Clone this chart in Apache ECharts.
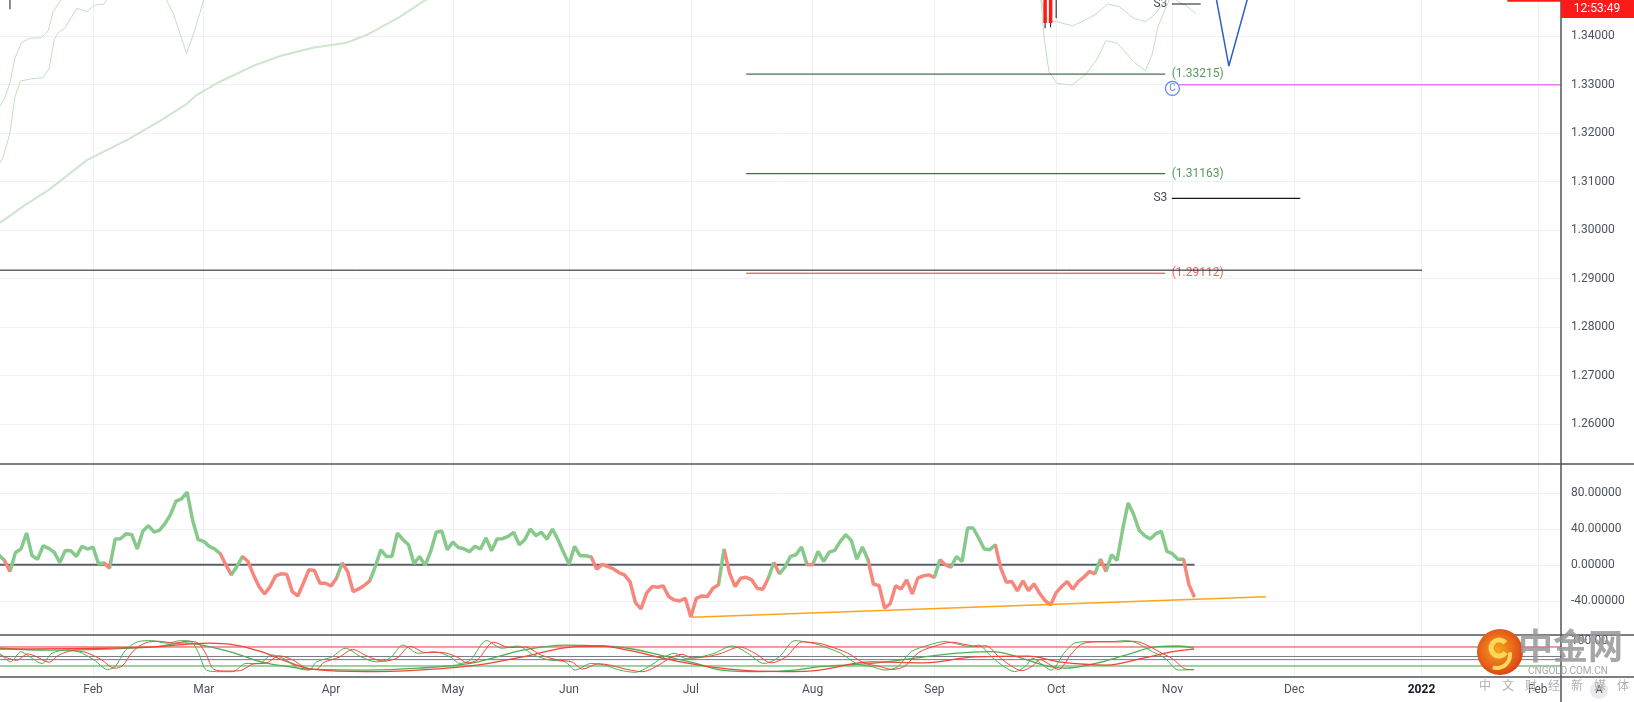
<!DOCTYPE html>
<html><head><meta charset="utf-8">
<script src="https://cdn.jsdelivr.net/npm/echarts@6/dist/echarts.min.js"></script>
<style>html,body{margin:0;padding:0;background:#fff}#c{width:1634px;height:702px}</style>
</head><body><div id="c"></div>
<script>
// ---------------- DATA ----------------
// x = trading-day index, 0 = 2021-01-07
const XMIN = 0.2, XMAX = 282.2;
const monthTickIndex = [17, 37, 60, 82, 103, 125, 147, 169, 191, 212, 234, 257, 278];
const monthTickLabel = ['Feb','Mar','Apr','May','Jun','Jul','Aug','Sep','Oct','Nov','Dec','2022','Feb'];
const priceTicks = [1.26, 1.27, 1.28, 1.29, 1.30, 1.31, 1.32, 1.33, 1.34];
const cciTicks = [-40, 0, 40, 80];
const stochTicks = [100];

// price pane: moving average and band curves [index, price]
const maLong = [[0.2,1.3015],[4.7,1.30515],[9.2,1.30845],[15.9,1.31443],[23.1,1.31855],[29.1,1.32253],[33.9,1.32598],[35.7,1.32783],[39.9,1.33058],[45.9,1.33381],[50.8,1.33587],[56.7,1.33759],[62.8,1.33862],[66.4,1.3402],[72.5,1.34398],[76.6,1.34707],[79.7,1.3491]];
const bandA = [[0.2,1.32556],[0.9,1.3268],[2.0,1.33031],[2.9,1.33546],[4.1,1.33862],[5.6,1.33958],[7.7,1.33965],[8.9,1.34109],[9.8,1.34501],[11.0,1.34707],[11.8,1.3485]];
const bandB = [[0.2,1.31387],[0.8,1.31511],[2.0,1.32],[2.9,1.32748],[3.9,1.33072],[5.9,1.33119],[7.9,1.3314],[9.1,1.33334],[10.0,1.33932],[10.9,1.34088],[11.9,1.34158],[14.1,1.34571],[15.9,1.34501],[17.2,1.34633],[19.0,1.3466],[19.7,1.348]];
const bandDip = [[30.0,1.348],[31.5,1.34468],[32.7,1.34055],[33.9,1.33643],[35.1,1.3402],[36.3,1.34468],[37.1,1.348]];
const bandOctUpper = [[188.2,1.3485],[188.8,1.34468],[189.7,1.34315],[191.1,1.34295],[194.0,1.34206],[198.0,1.34433],[200.3,1.3466],[202.4,1.34604],[205.0,1.34365],[207.1,1.34295],[208.7,1.34433],[210.1,1.34639],[211.2,1.3478]];
const bandOctUpper2 = [[212.4,1.3478],[213.0,1.34707],[214.6,1.34618],[216.3,1.34453]];
const bandOctLower = [[188.2,1.348],[188.8,1.33985],[189.7,1.33264],[191.1,1.33024],[193.9,1.32989],[196.2,1.33196],[198.3,1.33505],[200.0,1.33903],[202.1,1.33849],[205.0,1.3347],[207.1,1.33284],[208.3,1.33608],[209.4,1.34191],[210.9,1.34604],[211.6,1.3478]];

// candles visible at the top edge
const candleIdx   = [2, 189, 190, 191];
const candleOpen  = [1.3640, 1.3560, 1.3490, 1.3480];
const candleClose = [1.3600, 1.3427, 1.3427, 1.3500];
const candleLow   = [1.3455, 1.34158, 1.3418, 1.34365];
const candleHigh  = [1.3700, 1.3600, 1.3560, 1.3560];

// drawn levels
const fibLevels = [1.33215, 1.31163, 1.29112];
const fibColors = ['#1a4a1f', '#1a4a1f', '#e8312a'];
const fibLabelColors = ['#2e7d32', '#2e7d32', '#f23a2f'];
const fibFrom = 135.0, fibTo = 210.7;
const longLine = [[0.2, 1.29175], [257.1, 1.29175]];
const s3Lines = [[211.9, 217.1, 1.3466], [211.9, 235.1, 1.30653]];
const magentaLine = [[213.0, 1.32994], [282.2, 1.32994]];
const blueWave = [[219.7,1.34907],[222.2,1.33381],[225.9,1.34907]];
const pointC = [212.0, 1.3292];
const topRedLine = [[272.5, 1.34735], [282.2, 1.34735]];

// middle oscillator (one value per trading day, index 0..216)
const cciValues = [11,4.8,-7.4,13.8,17.5,35.3,10,6.3,21.2,18.2,13.8,2.6,16,15.6,9.3,20.5,17.5,19.7,1.1,1.9,
-3.7,28.6,29,34.6,33.5,17.5,37.2,43.5,36.5,38.3,45.8,55.8,70.7,73.3,80.7,49.5,27.9,26,20.5,17.5,
12.3,0,-11.2,-1.9,9.3,3.7,-11.2,-24.2,-32.4,-24.2,-12.3,-10,-10.4,-29.8,-34.6,-20.5,-5.6,-6.3,-20.5,-20.5,
-23.4,-14.9,1.9,-7.4,-29.8,-26.8,-23,-17.9,-1.9,16.7,9.3,9.3,35.3,27.9,22.3,1.1,9.3,-0.7,14.9,36.1,
37.6,16.7,25.3,19.3,17.9,14.5,20.5,17.5,29.8,15.6,28.6,29,31.6,36.1,22.3,27.9,39.8,32.4,36.1,28.6,
39.8,27.9,13.8,0.7,20.5,10,10,8.6,-4.8,0.4,-1.9,-4.5,-8.6,-11.2,-18.6,-42,-49,-31.6,-24.2,-24.9,
-23.4,-35.3,-39,-40.2,-37.2,-58,-37.2,-34.6,-35.3,-26,-22.3,17.5,-9.3,-24.2,-14.9,-13.8,-16.7,-26,-27.2,-14.9,
2.6,-10,-2.6,9.3,11.2,19.7,0,0,14.9,3.7,14.1,16,26,33.5,26.8,6.3,19.7,5.6,-21.6,-23,
-48,-43.5,-23.4,-26.8,-16.7,-32.4,-14.9,-12.3,-11.2,-14.1,5.6,0,-2.6,9.3,3.7,40.9,40.9,29.8,17.5,16.7,
22.3,-3.7,-19.3,-18.6,-29,-17.9,-28.6,-21.2,-31.6,-39.8,-44.6,-30.9,-24.2,-18.6,-27.2,-18.6,-13.8,-7.4,-10,6.3,
-7.4,11.2,4.8,39,68.8,55.8,38.3,32.4,28.6,34.6,37.2,14.9,12.3,6.3,6.3,-22.3,-36.1];
const cciRedRanges = [[1,2],[19,20],[40,42],[44,61],[62,67],[107,130],[131,139],[140,141],[146,147],[157,169],[170,172],[180,198],[199,200],[214,216]];
const cciZero = [[0.2, 0], [216, 0]];
const cciTrend = [[125.2, -58.3], [228.9, -35.4]];

// bottom stochastic pane [index, value]
const fastK = [[0.2,60],[2.1,33],[4.0,65],[5.4,51],[7.8,28],[9.6,60],[12.0,70],[14.4,65],[17.2,39],[19.6,9],[21.0,18],[22.9,70],[25.2,97],[27.6,100],[30.4,92],[32.8,100],[34.7,97],[36.1,60],[37.5,7],[39.9,2],[42.2,2],[44.6,28],[47.0,28],[49.3,55],[51.7,41],[54.0,13],[56.0,7],[57.4,33],[60.2,49],[62.6,76],[65.4,49],[68.2,33],[70.6,44],[73.0,86],[75.8,60],[78.6,65],[81.5,49],[83.3,28],[85.2,39],[88.1,100],[90.9,76],[93.7,83],[96.6,55],[99.4,39],[102.3,33],[104.1,7],[107.0,28],[109.3,23],[112.2,7],[115.0,0],[117.4,18],[119.7,44],[122.1,60],[124.0,44],[126.8,49],[129.2,60],[132.5,83],[135.3,60],[138.2,28],[141.0,49],[143.8,100],[146.7,93],[148.3,86],[152.1,60],[154.9,28],[157.7,18],[160.1,7],[162.4,18],[164.8,65],[168.0,86],[170.9,97],[173.2,89],[175.6,81],[177.0,86],[179.3,49],[181.6,18],[183.5,2],[185.4,18],[186.8,44],[188.2,28],[190.1,7],[192.4,60],[194.3,92],[197.1,97],[200.9,97],[203.7,100],[205.6,92],[208.4,65],[210.7,44],[213.1,7],[215.9,9]];
const fastD = [[0.2,55],[3.2,38],[5.2,58],[6.7,50],[9.0,32],[10.9,55],[13.3,68],[15.7,63],[18.5,40],[20.9,13],[22.3,20],[24.2,66],[26.5,93],[28.9,98],[31.7,92],[34.1,98],[36.0,92],[37.4,58],[38.8,10],[41.2,4],[43.5,5],[45.9,26],[48.3,29],[50.6,52],[53.0,40],[55.3,15],[57.3,9],[58.7,31],[61.5,48],[63.9,72],[66.7,50],[69.5,35],[71.9,45],[74.3,82],[77.1,62],[79.9,63],[82.8,48],[84.6,30],[86.5,40],[89.4,95],[92.2,78],[95.0,80],[97.9,55],[100.7,40],[103.6,32],[105.4,10],[108.3,27],[110.6,22],[113.5,9],[116.3,2],[118.7,18],[121.0,42],[123.4,57],[125.3,45],[128.1,50],[130.5,60],[133.8,80],[136.6,60],[139.5,30],[142.3,50],[145.1,96],[148.0,92],[149.6,85],[153.4,60],[156.2,30],[159.0,19],[161.4,9],[163.7,20],[166.1,62],[169.3,84],[172.2,95],[174.5,88],[176.9,82],[178.3,84],[180.6,50],[182.9,20],[184.8,5],[186.7,20],[188.1,40],[189.5,28],[191.4,9],[193.7,57],[195.6,89],[198.4,96],[202.2,96],[205.0,98],[206.9,90],[209.7,64],[212.0,43],[214.4,10],[215.9,8]];
const slowGreen = [[0.2,76],[9.6,70],[19.1,73],[28.6,81],[33.3,93],[38.0,81],[42.7,60],[47.4,33],[52.2,18],[56.9,9],[66.3,7],[75.8,13],[85.2,28],[90.0,49],[94.7,70],[102.3,86],[108.9,83],[113.6,76],[119.3,55],[125.9,28],[130.6,7],[137.2,2],[143.8,7],[148.3,18],[157.7,28],[165.2,44],[172.7,60],[179.3,65],[184.0,49],[188.7,23],[192.4,13],[198.1,28],[203.7,55],[209.3,81],[213.1,83],[215.9,76]];
const slowRed = [[0.2,73],[19.1,76],[28.6,81],[38.0,92],[42.7,86],[47.4,65],[52.2,33],[56.9,9],[66.3,2],[75.8,7],[85.2,20],[94.7,49],[104.1,81],[108.9,83],[113.6,70],[123.1,33],[132.5,9],[141.9,2],[148.3,7],[157.7,33],[167.1,30],[176.5,49],[185.9,51],[191.5,33],[200.0,23],[206.5,44],[212.1,65],[215.9,73]];
const stochLevels = [80, 50, 40, 20];
const stochLevelColors = ['#e53935', '#787b86', '#787b86', '#43a047'];

// ---------------- CHART ----------------
const FONT = "Roboto, 'Liberation Sans', sans-serif";
const AXIS_TXT = '#4c525e';
const GRIDC = '#eef2f6';
const GREEN = '#86c98a', RED = '#f7867c';
const BAND = '#c2dfc3';

const series = [];
function line(g, data, color, width, extra) {
  series.push(Object.assign({
    type: 'line', xAxisIndex: g, yAxisIndex: g, data: data, symbol: 'none', showSymbol: false,
    silent: true, animation: false, lineStyle: { color: color, width: width }, itemStyle: { color: color }
  }, extra || {}));
  return series.length - 1;
}

// price pane
line(0, maLong, '#cde6cd', 2);
[bandA, bandB, bandDip, bandOctUpper, bandOctUpper2, bandOctLower].forEach(b => line(0, b, BAND, 1));
candleIdx.forEach((ix, k) => {
  line(0, [[ix, candleHigh[k]], [ix, candleLow[k]]], '#131722', 1);
  const top = Math.max(candleOpen[k], candleClose[k]), bot = Math.min(candleOpen[k], candleClose[k]);
  line(0, [[ix, top], [ix, bot]], candleOpen[k] > candleClose[k] ? '#ff1a1a' : '#26a69a', 3.5);
});
line(0, longLine, '#131722', 1);
fibLevels.forEach((lv, k) => line(0, [[fibFrom, lv], [fibTo, lv]], fibColors[k], 1));
s3Lines.forEach(s => line(0, [[s[0], s[2]], [s[1], s[2]]], '#131722', 1.2));
line(0, magentaLine, '#e27cf0', 1.5);
line(0, blueWave, '#2f5fc4', 1.5);
line(0, topRedLine, '#ff1a1a', 3);
series.push({
  type: 'scatter', xAxisIndex: 0, yAxisIndex: 0, silent: true, animation: false,
  data: [pointC], symbol: 'circle', symbolSize: 14,
  itemStyle: { color: '#ffffff', borderColor: '#2962ff', borderWidth: 1.2 },
  label: { show: true, position: 'inside', formatter: 'C', color: '#2962ff', fontSize: 10, fontFamily: FONT }
});
const textItems = [];
fibLevels.forEach((lv, k) => textItems.push({ value: [fibTo, lv], name: '(' + lv.toFixed(5) + ')',
  label: { position: 'right', distance: 6, color: fibLabelColors[k] } }));
s3Lines.forEach(s => textItems.push({ value: [s[0], s[2]], name: 'S3', label: { position: 'left', distance: 4, color: '#131722' } }));
series.push({
  type: 'scatter', xAxisIndex: 0, yAxisIndex: 0, silent: true, animation: false, data: textItems,
  symbolSize: 1, itemStyle: { color: 'rgba(0,0,0,0)' },
  label: { show: true, formatter: p => p.name, fontSize: 12, fontFamily: FONT }
});

// middle pane
line(1, cciZero, '#5d606b', 2);
const cciIdx = line(1, cciValues.map((v, i) => [i, v]), null, 3.5, { z: 3, lineStyle: { width: 3.5 }, itemStyle: {} });
line(1, cciTrend, '#ffa31a', 1.5, { z: 4 });

// bottom pane
stochLevels.forEach((lv, k) => line(2, [[XMIN, lv], [XMAX, lv]], stochLevelColors[k], 1));
line(2, slowGreen, '#4caf50', 1.3, { smooth: 0.4 });
line(2, slowRed, '#f44336', 1.3, { smooth: 0.4 });
line(2, fastK, '#4caf50', 1, { smooth: 0.3 });
line(2, fastD, '#f44336', 1, { smooth: 0.3 });

function xAxis(g, showLabel) {
  return {
    type: 'value', gridIndex: g, min: XMIN, max: XMAX,
    axisLine: { show: false }, axisTick: { show: false, customValues: monthTickIndex },
    splitLine: { show: true, lineStyle: { color: GRIDC, width: 1 } },
    axisLabel: {
      show: showLabel, customValues: monthTickIndex, margin: 7, color: AXIS_TXT, fontSize: 12, fontFamily: FONT,
      formatter: v => { const t = monthTickLabel[monthTickIndex.indexOf(Math.round(v))] || ''; return t === '2022' ? '{y|2022}' : t; },
      rich: { y: { fontWeight: 'bold', color: '#131722', fontSize: 12, fontFamily: FONT } }
    }
  };
}
function yAxis(g, min, max, ticks, digits, split) {
  return {
    type: 'value', gridIndex: g, position: 'right', min: min, max: max,
    axisLine: { show: false }, axisTick: { show: false, customValues: ticks },
    splitLine: { show: split, lineStyle: { color: GRIDC, width: 1 } },
    axisLabel: { customValues: ticks, formatter: v => v.toFixed(digits), color: AXIS_TXT, fontSize: 12, margin: 10, fontFamily: FONT }
  };
}

// logo letters
const sloganChars = ['中','文','财','经','新','媒','体'];
const logo = [
  { type: 'circle', shape: { cx: 1500, cy: 652, r: 23 }, style: { fill: { type: 'radial', x: 0.45, y: 0.45, r: 0.6,
    colorStops: [{ offset: 0, color: '#f7a61e' }, { offset: 1, color: '#dd3d16' }] } }, z: 100 },
  { type: 'arc', shape: { cx: 1499, cy: 648, r: 8, startAngle: 0.6, endAngle: 5.6 }, style: { stroke: '#ffd75a', lineWidth: 5, fill: null }, z: 101 },
  { type: 'arc', shape: { cx: 1497, cy: 655, r: 13, startAngle: -0.2, endAngle: 1.9 }, style: { stroke: '#ffd75a', lineWidth: 4, fill: null }, z: 101 },
  { type: 'text', x: 1518, y: 628, style: { text: '中金网', fill: 'rgba(150,150,150,0.85)', font: 'bold 35px "Noto Sans CJK SC"' }, z: 100 },
  { type: 'text', x: 1528, y: 666, style: { text: 'CNGOLD.COM.CN', fill: '#a8a8a8', font: '10px ' + FONT }, z: 100 }
].concat(sloganChars.map((ch, k) => ({ type: 'text', x: 1479 + k * 23, y: 679, style: { text: ch, fill: '#b0b0b0', font: '12px "Noto Sans CJK SC"' }, z: 100 })));

const option = {
  backgroundColor: '#ffffff',
  animation: false,
  grid: [
    { left: 0, right: 73, top: 0, height: 464 },
    { left: 0, right: 73, top: 464, height: 171 },
    { left: 0, right: 73, top: 635, height: 42 }
  ],
  xAxis: [xAxis(0, false), xAxis(1, false), xAxis(2, true)],
  yAxis: [
    yAxis(0, 1.25181, 1.34742, priceTicks, 5, true),
    yAxis(1, -78, 112, cciTicks, 5, true),
    yAxis(2, -14.8, 117.8, stochTicks, 2, false)
  ],
  visualMap: [{
    type: 'piecewise', show: false, dimension: 0, seriesIndex: cciIdx,
    pieces: cciRedRanges.map(r => ({ gte: r[0], lte: r[1], color: RED })),
    outOfRange: { color: GREEN }
  }],
  series: series,
  graphic: [
    { type: 'line', shape: { x1: 0, y1: 464, x2: 1634, y2: 464 }, style: { stroke: '#50535e', lineWidth: 1.5 }, z: 50 },
    { type: 'line', shape: { x1: 0, y1: 635, x2: 1634, y2: 635 }, style: { stroke: '#50535e', lineWidth: 1.5 }, z: 50 },
    { type: 'line', shape: { x1: 0, y1: 677, x2: 1634, y2: 677 }, style: { stroke: '#50535e', lineWidth: 1.5 }, z: 50 },
    { type: 'line', shape: { x1: 1561, y1: 0, x2: 1561, y2: 702 }, style: { stroke: '#50535e', lineWidth: 1.5 }, z: 50 },
    { type: 'rect', shape: { x: 1561, y: 0, width: 73, height: 18 }, style: { fill: '#ff1a1a' }, z: 60 },
    { type: 'text', x: 1597, y: 9, style: { text: '12:53:49', fill: '#ffffff', font: '12px ' + FONT, align: 'center', verticalAlign: 'middle' }, z: 61 },
    { type: 'circle', shape: { cx: 1599, cy: 690, r: 9 }, style: { fill: '#e9ebef' }, z: 60 },
    { type: 'text', x: 1599, y: 690, style: { text: 'A', fill: '#4c525e', font: '11px ' + FONT, align: 'center', verticalAlign: 'middle' }, z: 61 }
  ].concat(logo)
};
const chart = echarts.init(document.getElementById('c'));
chart.setOption(option);
</script></body></html>
